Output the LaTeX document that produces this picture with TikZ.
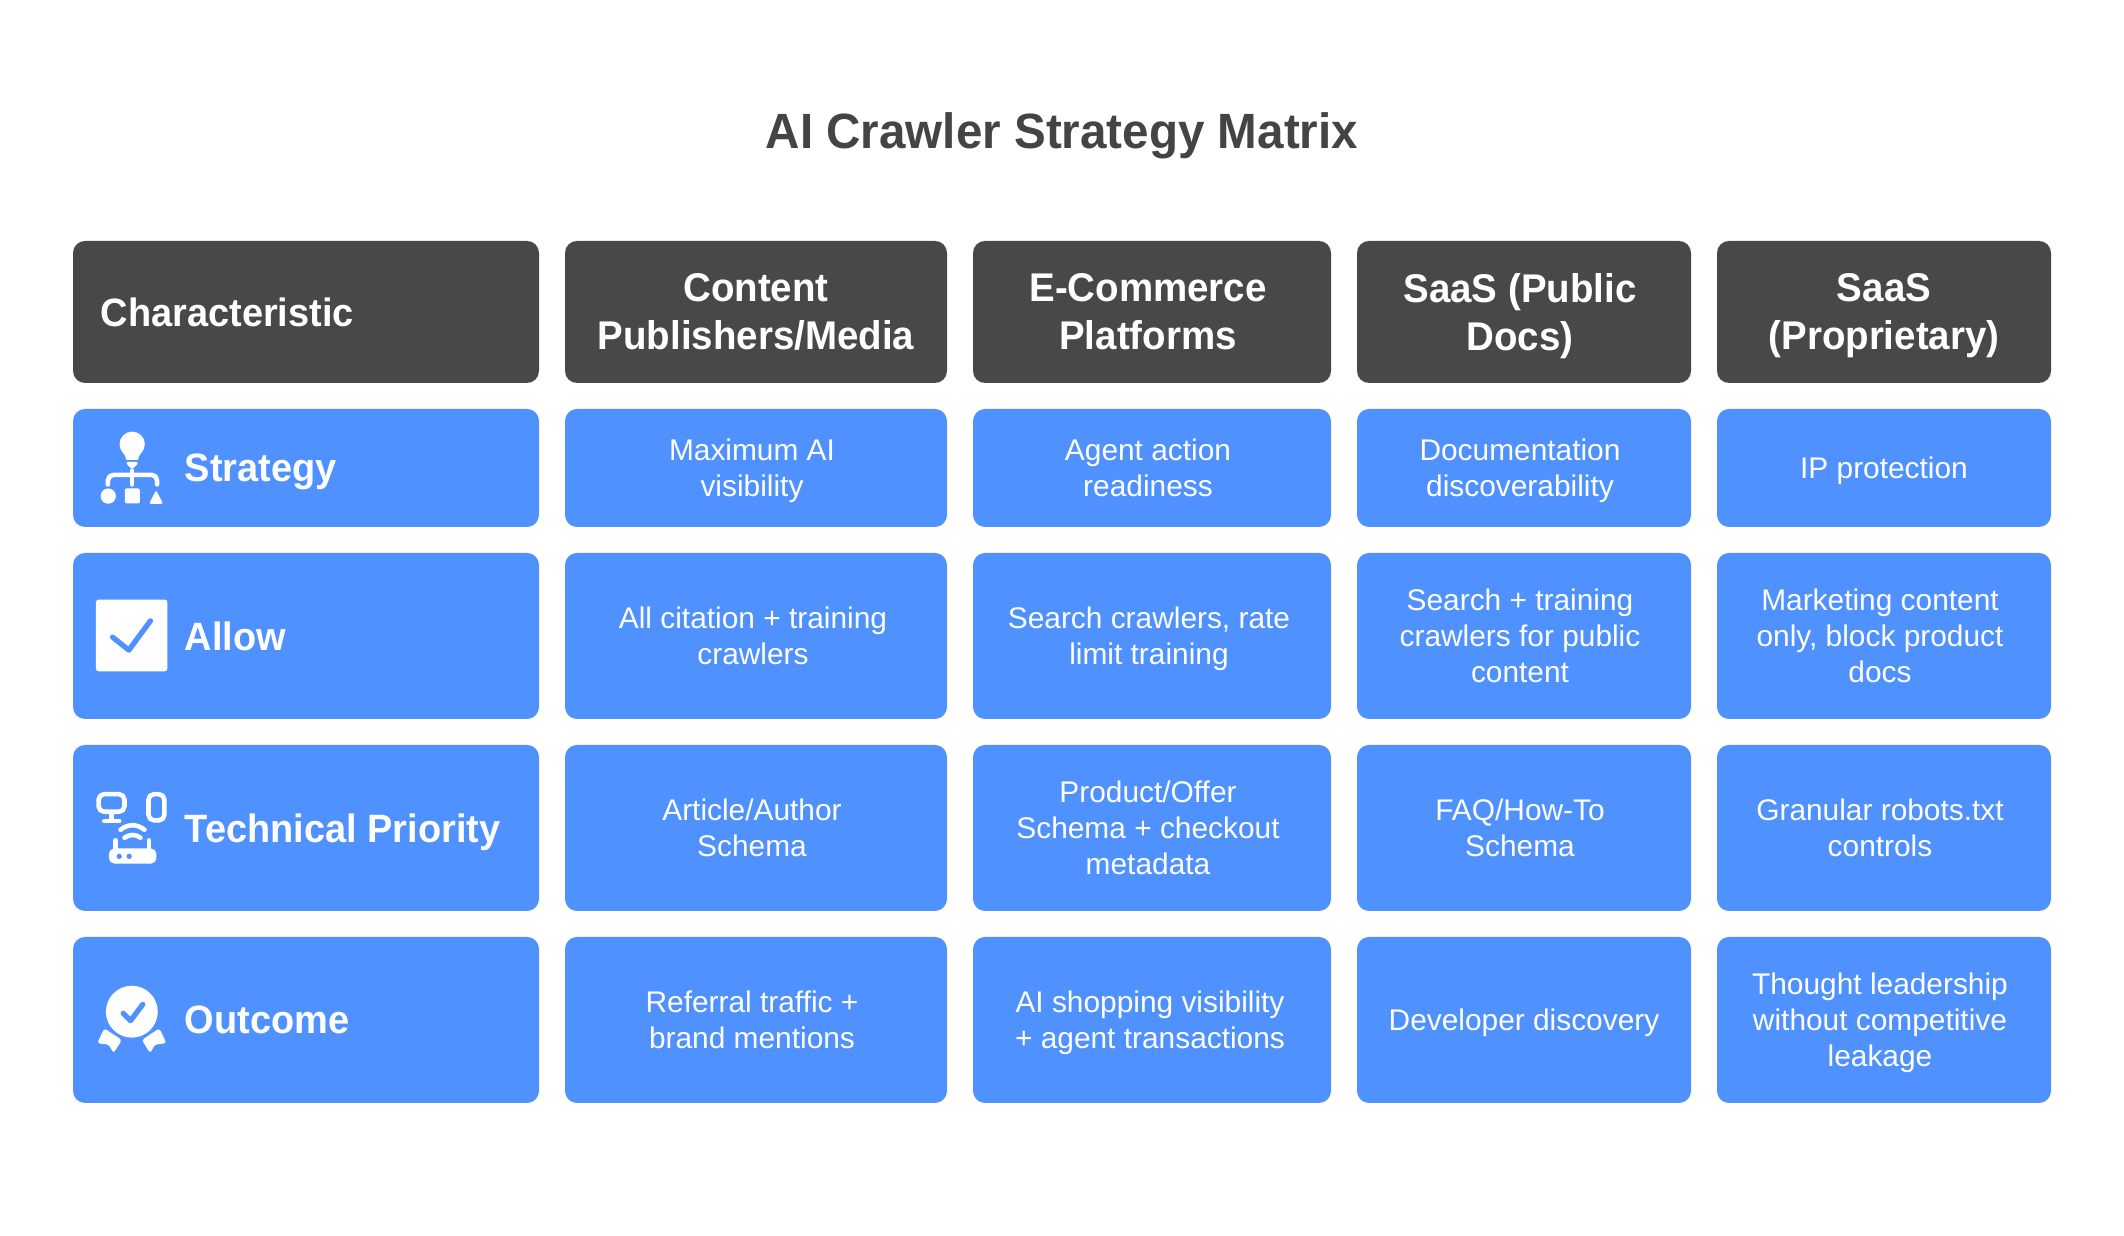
\documentclass[tikz,border=0pt]{standalone}
\usepackage{fontspec}
\setmainfont[BoldFeatures={FakeStretch=0.96}]{Liberation Sans}
\usepackage{tikz}
\definecolor{cellblue}{HTML}{4F91FF}
\definecolor{headgrey}{HTML}{484848}
\definecolor{titlegrey}{HTML}{444444}
\tikzset{
	headcell/.style={fill=headgrey, rounded corners=0.12cm, inner sep=0, minimum height=1.42cm},
	bluecell/.style={fill=cellblue, rounded corners=0.12cm, inner sep=0},
	colA/.style={minimum width=4.66cm},
	colB/.style={minimum width=3.82cm},
	colC/.style={minimum width=3.58cm},
	colD/.style={minimum width=3.34cm},
	colE/.style={minimum width=3.34cm},
	rowS/.style={minimum height=1.18cm},
	rowL/.style={minimum height=1.66cm},
	headtext/.style={text=white, align=center, text depth=0pt, font=\bfseries\fontsize{11.4}{13.66}\selectfont},
	sidetext/.style={text=white, anchor=west, inner sep=0, text depth=0pt, font=\bfseries\fontsize{11.25}{13.66}\selectfont},
	celltext/.style={text=white, align=center, text depth=0pt, font=\fontsize{8.5}{10.24}\selectfont},
	iconstroke/.style={draw=white, line width=1.3pt, line cap=round, line join=round},
	iconcut/.style={draw=cellblue, line width=1.5pt, line cap=round, line join=round},
}

\begin{document}
\begin{tikzpicture}
		\useasboundingbox (0, 0) rectangle (21.24, 12.36);
		%%%%% TITLE %%%%%
		\node[text=titlegrey, font=\bfseries\fontsize{14.1}{17}\selectfont] (title) at (10.62, 11.00) {AI Crawler Strategy Matrix};
		
		%%%%% HEADER %%%%%
		\node[headcell, colA] (headChar) at (3.06, 9.24) {};
		\node[headcell, colB] (headMedia) at (7.56, 9.24) {};
		\node[headcell, colC] (headShop) at (11.52, 9.24) {};
		\node[headcell, colD] (headDocs) at (15.24, 9.24) {};
		\node[headcell, colE] (headProp) at (18.84, 9.24) {};
		\node[sidetext] (textChar) at (1.00, 9.24) {Characteristic};
		\node[headtext] (textMedia) at (headMedia.center) {Content\\Publishers/Media};
		\node[headtext] (textShop) at ([xshift=-0.04cm]headShop.center) {E-Commerce\\Platforms};
		\node[headtext] (textDocs) at ([xshift=-0.04cm]headDocs.center) {SaaS (Public\\Docs)};
		\node[headtext] (textProp) at (headProp.center) {SaaS\\(Proprietary)};
		
		%%%%% STRATEGY %%%%%
		\node[bluecell, colA, rowS] (stratSide) at (3.06, 7.68) {};
		\node[bluecell, colB, rowS] (stratMedia) at (7.56, 7.68) {};
		\node[bluecell, colC, rowS] (stratShop) at (11.52, 7.68) {};
		\node[bluecell, colD, rowS] (stratDocs) at (15.24, 7.68) {};
		\node[bluecell, colE, rowS] (stratProp) at (18.84, 7.68) {};
		\node[sidetext] (textStrat) at (1.84, 7.68) {Strategy};
		\node[celltext] (stratMediaText) at ([xshift=-0.04cm]stratMedia.center) {Maximum AI\\visibility};
		\node[celltext] (stratShopText) at ([xshift=-0.04cm]stratShop.center) {Agent action\\readiness};
		\node[celltext] (stratDocsText) at ([xshift=-0.04cm]stratDocs.center) {Documentation\\discoverability};
		\node[celltext] (stratPropText) at (stratProp.center) {IP protection};
		
		%%%%% ALLOW %%%%%
		\node[bluecell, colA, rowL] (allowSide) at (3.06, 6.00) {};
		\node[bluecell, colB, rowL] (allowMedia) at (7.56, 6.00) {};
		\node[bluecell, colC, rowL] (allowShop) at (11.52, 6.00) {};
		\node[bluecell, colD, rowL] (allowDocs) at (15.24, 6.00) {};
		\node[bluecell, colE, rowL] (allowProp) at (18.84, 6.00) {};
		\node[sidetext] (textAllow) at (1.84, 6.00) {Allow};
		\node[celltext] (allowMediaText) at ([xshift=-0.03cm]allowMedia.center) {All citation + training\\crawlers};
		\node[celltext] (allowShopText) at ([xshift=-0.03cm]allowShop.center) {Search crawlers, rate\\limit training};
		\node[celltext] (allowDocsText) at ([xshift=-0.04cm]allowDocs.center) {Search + training\\crawlers for public\\content};
		\node[celltext] (allowPropText) at ([xshift=-0.04cm]allowProp.center) {Marketing content\\only, block product\\docs};
		
		%%%%% TECHNICAL PRIORITY %%%%%
		\node[bluecell, colA, rowL] (techSide) at (3.06, 4.08) {};
		\node[bluecell, colB, rowL] (techMedia) at (7.56, 4.08) {};
		\node[bluecell, colC, rowL] (techShop) at (11.52, 4.08) {};
		\node[bluecell, colD, rowL] (techDocs) at (15.24, 4.08) {};
		\node[bluecell, colE, rowL] (techProp) at (18.84, 4.08) {};
		\node[sidetext] (textTech) at (1.84, 4.08) {Technical Priority};
		\node[celltext] (techMediaText) at ([xshift=-0.04cm]techMedia.center) {Article/Author\\Schema};
		\node[celltext] (techShopText) at ([xshift=-0.04cm]techShop.center) {Product/Offer\\Schema + checkout\\metadata};
		\node[celltext] (techDocsText) at ([xshift=-0.04cm]techDocs.center) {FAQ/How-To\\Schema};
		\node[celltext] (techPropText) at ([xshift=-0.04cm]techProp.center) {Granular robots.txt\\controls};
		
		%%%%% OUTCOME %%%%%
		\node[bluecell, colA, rowL] (outSide) at (3.06, 2.16) {};
		\node[bluecell, colB, rowL] (outMedia) at (7.56, 2.16) {};
		\node[bluecell, colC, rowL] (outShop) at (11.52, 2.16) {};
		\node[bluecell, colD, rowL] (outDocs) at (15.24, 2.16) {};
		\node[bluecell, colE, rowL] (outProp) at (18.84, 2.16) {};
		\node[sidetext] (textOut) at (1.84, 2.16) {Outcome};
		\node[celltext] (outMediaText) at ([xshift=-0.04cm]outMedia.center) {Referral traffic +\\brand mentions};
		\node[celltext] (outShopText) at ([xshift=-0.02cm]outShop.center) {AI shopping visibility\\+ agent transactions};
		\node[celltext] (outDocsText) at (outDocs.center) {Developer discovery};
		\node[celltext] (outPropText) at ([xshift=-0.04cm]outProp.center) {Thought leadership\\without competitive\\leakage};
		
		%%%%% ICONS %%%%%
		\begin{scope}[shift={(0.6, 8.36)}, x=0.003333cm, y=-0.003333cm]
			% bulb and tree
			\fill[white] (217, 133) circle (38);
			\fill[white] (187, 155) .. controls (195, 165) and (198, 172) .. (200, 180) -- (234, 180) .. controls (236, 172) and (239, 165) .. (247, 155) -- cycle;
			\fill[white, rounded corners=1pt] (195, 186) -- (239, 186) -- (217, 210) -- cycle;
			\draw[iconstroke, rounded corners=1.6pt] (144, 254) -- (144, 225) -- (292, 225) -- (292, 254);
			\draw[iconstroke] (217, 212) -- (217, 254);
			\fill[white] (145, 289) circle (23);
			\fill[white, rounded corners=0.4pt] (195, 266) rectangle (240, 311);
			\fill[white, rounded corners=0.4pt] (268, 312) -- (289, 271) -- (310, 312) -- cycle;
			% check box
			\fill[white, rounded corners=0.8pt] (108, 600) rectangle (323, 816);
			\draw[iconcut] (158, 713) -- (207, 752) -- (272, 664);
		\end{scope}
		\begin{scope}[shift={(0.6, 5.16)}, x=0.003333cm, y=-0.003333cm]
			% monitor, phone and router
			\draw[iconstroke, rounded corners=1.6pt] (116, 223) rectangle (194, 276);
			\draw[iconstroke] (155, 282) -- (155, 303);
			\draw[iconstroke] (133, 304) -- (178, 304);
			\draw[iconstroke, rounded corners=1.6pt] (266, 223) rectangle (314, 302);
			\draw[iconstroke] (182, 330) .. controls (205, 312) and (230, 312) .. (254, 330);
			\draw[iconstroke] (194, 354) .. controls (208, 343) and (228, 343) .. (242, 354);
			\draw[iconstroke] (167, 362) -- (167, 392);
			\draw[iconstroke] (268, 362) -- (268, 392);
			\fill[white, rounded corners=1.6pt] (147, 386) rectangle (290, 432);
			\fill[cellblue] (178, 410) circle (8);
			\fill[cellblue] (208, 410) circle (8);
			% rosette
			\fill[white] (216, 877) circle (78);
			\draw[iconcut] (190, 882) -- (212, 904) -- (249, 855);
			\fill[white, rounded corners=0.8pt] (133, 927) -- (186, 962) -- (161, 1002) -- (147, 976) -- (112, 972) -- cycle;
			\fill[white, rounded corners=0.8pt] (299, 927) -- (246, 962) -- (271, 1002) -- (285, 976) -- (320, 972) -- cycle;
		\end{scope}
		
		%%%%% END %%%%%
	\end{tikzpicture}
\end{document}
